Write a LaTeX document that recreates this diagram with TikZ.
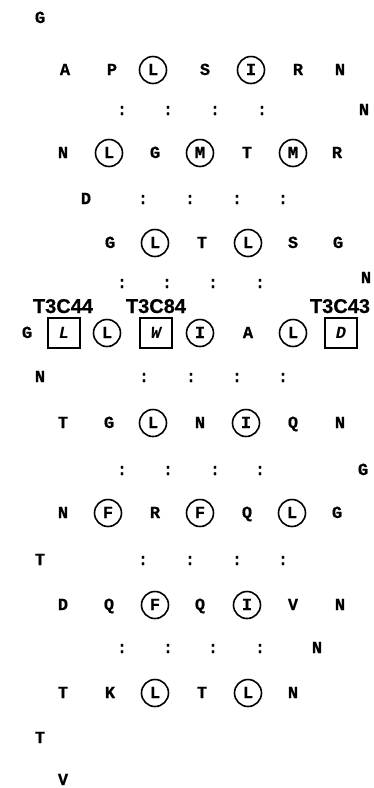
\documentclass[tikz,border=0pt]{standalone}
\usepackage{fontspec}
\newfontfamily\monofnt[BoldFeatures={FakeBold=0.5}]{Liberation Mono}
\newfontfamily\labfnt[BoldFeatures={FakeBold=0.5}]{Liberation Sans}
\begin{document}
\begin{tikzpicture}[x=1pt,y=-1pt,
  aa/.style={font=\monofnt\bfseries\fontsize{17}{17}\selectfont, inner sep=0pt, text height=10pt, text depth=0pt},
  circ/.style={aa, circle, draw, minimum size=27pt, line width=1.6pt},
  sq/.style={aa, rectangle, draw, minimum width=32pt, minimum height=30pt, line width=2.2pt, font=\monofnt\bfseries\itshape\fontsize{17}{17}\selectfont},
  lab/.style={font=\labfnt\bfseries\fontsize{20}{20}\selectfont, inner sep=0pt, text height=14pt, text depth=0pt},
  col/.style={aa}]
\useasboundingbox (0,0) rectangle (373,788);
% row 1
\node[aa] (g1) at (40,18) {G};
% row 2
\node[aa] (a2) at (65,70) {A};
\node[aa] (p2) at (112,70) {P};
\node[circ] (l2) at (153,70) {L};
\node[aa] (s2) at (205,70) {S};
\node[circ] (i2) at (251,70) {I};
\node[aa] (r2) at (298,70) {R};
\node[aa] (n2) at (340,70) {N};
% row 3
\node[col] (c3a) at (122,110) {:};
\node[col] (c3b) at (168,110) {:};
\node[col] (c3c) at (215,110) {:};
\node[col] (c3d) at (262,110) {:};
\node[aa] (n3) at (364,110) {N};
% row 4
\node[aa] (n4) at (63,153) {N};
\node[circ] (l4) at (109,153) {L};
\node[aa] (g4) at (155,153) {G};
\node[circ] (m4) at (200,153) {M};
\node[aa] (t4) at (247,153) {T};
\node[circ] (m4b) at (293,153) {M};
\node[aa] (r4) at (337,153) {R};
% row 5
\node[aa] (d5) at (86,199) {D};
\node[col] (c5a) at (143,199) {:};
\node[col] (c5b) at (190,199) {:};
\node[col] (c5c) at (237,199) {:};
\node[col] (c5d) at (283,199) {:};
% row 6
\node[aa] (g6) at (110,243) {G};
\node[circ] (l6) at (155,243) {L};
\node[aa] (t6) at (202,243) {T};
\node[circ] (l6b) at (248,243) {L};
\node[aa] (s6) at (293,243) {S};
\node[aa] (g6b) at (338,243) {G};
% row 7
\node[col] (c7a) at (122,283) {:};
\node[col] (c7b) at (167,283) {:};
\node[col] (c7c) at (213,283) {:};
\node[col] (c7d) at (260,283) {:};
\node[aa] (n7) at (366,278) {N};
% labels
\node[lab] (t44) at (63,306) {T3C44};
\node[lab] (t84) at (156,306) {T3C84};
\node[lab] (t43) at (340,306) {T3C43};
% row 8
\node[aa] (g8) at (27,333) {G};
\node[sq] (l8) at (64,333) {L};
\node[circ] (l8b) at (107,333) {L};
\node[sq] (w8) at (156,333) {W};
\node[circ] (i8) at (200,333) {I};
\node[aa] (a8) at (248,333) {A};
\node[circ] (l8c) at (293,333) {L};
\node[sq] (d8) at (341,333) {D};
% row 9
\node[aa] (n9) at (40,377) {N};
\node[col] (c9a) at (144,377) {:};
\node[col] (c9b) at (191,377) {:};
\node[col] (c9c) at (237,377) {:};
\node[col] (c9d) at (283,377) {:};
% row 10
\node[aa] (t10) at (63,423) {T};
\node[aa] (g10) at (109,423) {G};
\node[circ] (l10) at (153,423) {L};
\node[aa] (n10) at (200,423) {N};
\node[circ] (i10) at (246,423) {I};
\node[aa] (q10) at (293,423) {Q};
\node[aa] (n10b) at (340,423) {N};
% row 11
\node[col] (c11a) at (122,470) {:};
\node[col] (c11b) at (168,470) {:};
\node[col] (c11c) at (215,470) {:};
\node[col] (c11d) at (260,470) {:};
\node[aa] (g11) at (363,470) {G};
% row 12
\node[aa] (n12) at (63,513) {N};
\node[circ] (f12) at (108,513) {F};
\node[aa] (r12) at (155,513) {R};
\node[circ] (f12b) at (200,513) {F};
\node[aa] (q12) at (247,513) {Q};
\node[circ] (l12) at (292,513) {L};
\node[aa] (g12) at (337,513) {G};
% row 13
\node[aa] (t13) at (40,560) {T};
\node[col] (c13a) at (143,560) {:};
\node[col] (c13b) at (190,560) {:};
\node[col] (c13c) at (237,560) {:};
\node[col] (c13d) at (283,560) {:};
% row 14
\node[aa] (d14) at (63,605) {D};
\node[aa] (q14) at (109,605) {Q};
\node[circ] (f14) at (155,605) {F};
\node[aa] (q14b) at (200,605) {Q};
\node[circ] (i14) at (247,605) {I};
\node[aa] (v14) at (293,605) {V};
\node[aa] (n14) at (340,605) {N};
% row 15
\node[col] (c15a) at (122,648) {:};
\node[col] (c15b) at (168,648) {:};
\node[col] (c15c) at (213,648) {:};
\node[col] (c15d) at (260,648) {:};
\node[aa] (n15) at (317,648) {N};
% row 16
\node[aa] (t16) at (63,693) {T};
\node[aa] (k16) at (110,693) {K};
\node[circ] (l16) at (155,693) {L};
\node[aa] (t16b) at (202,693) {T};
\node[circ] (l16b) at (248,693) {L};
\node[aa] (n16) at (293,693) {N};
% rows 17-18
\node[aa] (t17) at (40,738) {T};
\node[aa] (v18) at (63,780) {V};
\end{tikzpicture}
\end{document}
